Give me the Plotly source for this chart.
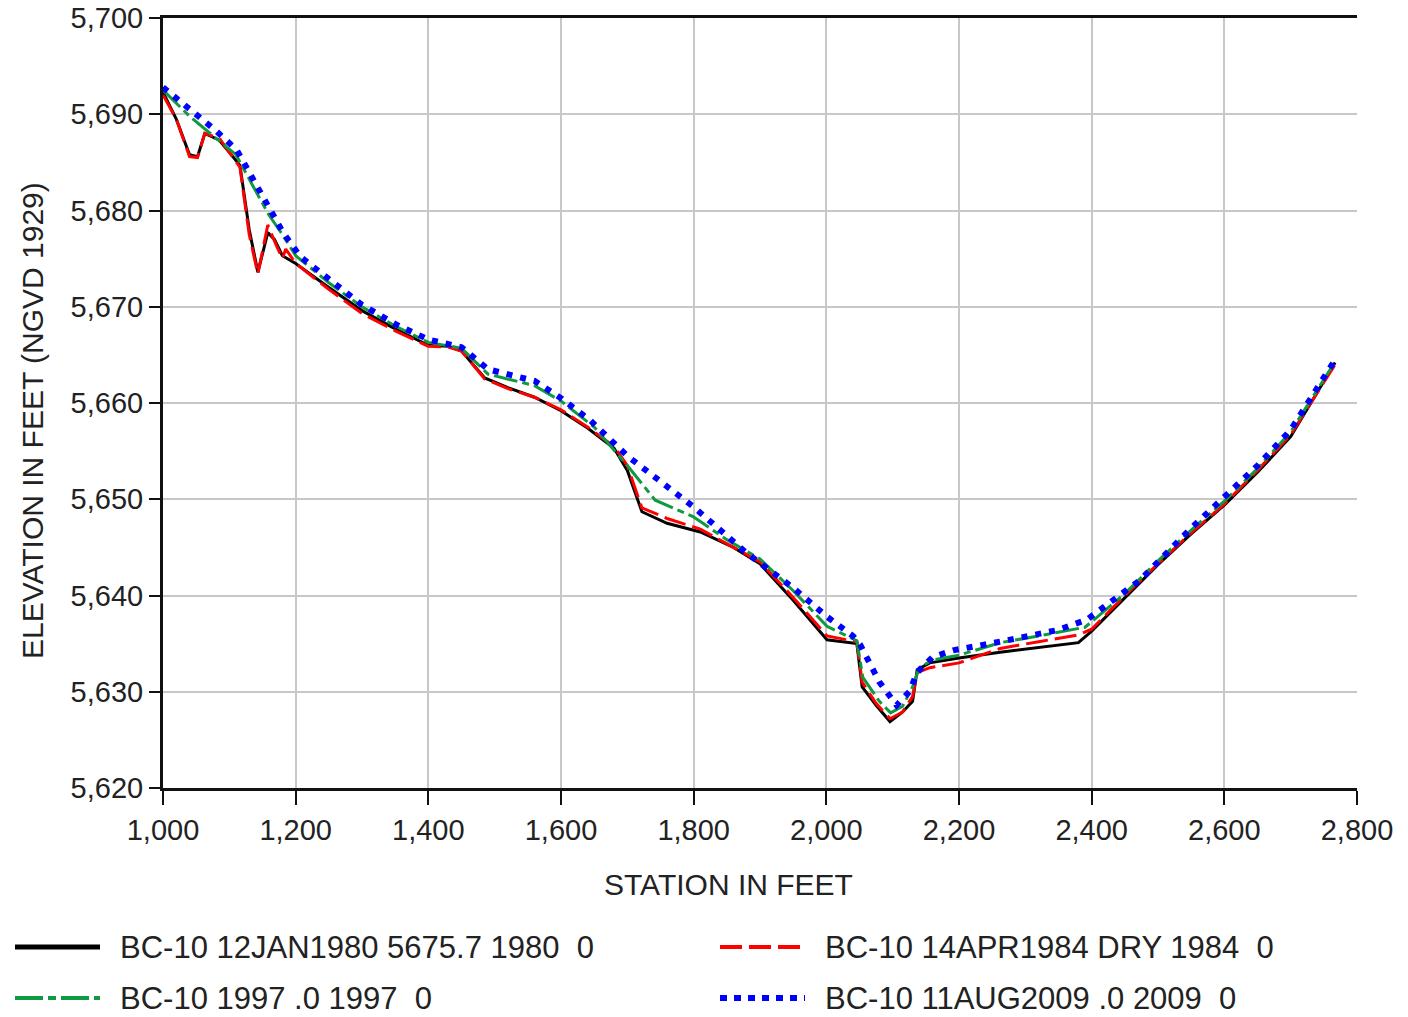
import plotly.graph_objects as go

# ---- data ----
names = [
    "BC-10 12JAN1980 5675.7 1980  0",
    "BC-10 14APR1984 DRY 1984  0",
    "BC-10 1997 .0 1997  0",
    "BC-10 11AUG2009 .0 2009  0",
]

x1980 = [1000, 1020, 1040, 1052, 1063, 1085, 1116, 1130, 1143, 1158, 1168, 1180, 1200, 1250, 1300, 1350,
         1400, 1430, 1450, 1485, 1520, 1560, 1600, 1640, 1680, 1700, 1722, 1760, 1810, 1860, 1900, 1950,
         2001, 2046, 2054, 2075, 2096, 2115, 2130, 2137, 2156, 2200, 2262, 2320, 2380, 2400, 2450, 2500,
         2550, 2600, 2650, 2700, 2767]
y1980 = [5692.3, 5689.5, 5685.8, 5685.6, 5688.0, 5687.3, 5684.7, 5678.0, 5673.6, 5677.7, 5677.0, 5675.3,
         5674.5, 5672.0, 5669.6, 5667.7, 5666.0, 5665.9, 5665.4, 5662.6, 5661.6, 5660.6, 5659.2, 5657.4,
         5655.3, 5653.0, 5648.7, 5647.5, 5646.6, 5645.0, 5643.3, 5639.5, 5635.4, 5635.0, 5630.5, 5628.6,
         5626.9, 5627.9, 5629.0, 5632.3, 5633.0, 5633.5, 5634.1, 5634.6, 5635.1, 5636.3, 5639.8, 5643.2,
         5646.4, 5649.4, 5652.8, 5656.5, 5664.2]

x1984 = [1000, 1020, 1040, 1052, 1063, 1085, 1116, 1130, 1143, 1158, 1170, 1180, 1185, 1200, 1250, 1300,
         1350, 1400, 1430, 1450, 1485, 1520, 1560, 1600, 1640, 1680, 1700, 1722, 1760, 1810, 1860, 1900,
         1950, 2001, 2046, 2054, 2075, 2096, 2115, 2130, 2137, 2156, 2200, 2262, 2320, 2380, 2400, 2450,
         2500, 2550, 2600, 2650, 2700, 2767]
y1984 = [5692.0, 5689.5, 5685.6, 5685.5, 5688.0, 5687.5, 5684.5, 5677.5, 5673.4, 5678.5, 5676.5, 5675.0,
         5676.0, 5674.5, 5671.8, 5669.3, 5667.5, 5665.9, 5665.8, 5665.4, 5662.5, 5661.5, 5660.6, 5659.3,
         5657.5, 5655.5, 5653.5, 5649.1, 5648.0, 5646.9, 5645.0, 5643.5, 5639.8, 5635.8, 5635.2, 5631.0,
         5628.8, 5627.2, 5627.9, 5629.5, 5632.0, 5632.5, 5633.0, 5634.5, 5635.2, 5635.9, 5636.5, 5640.0,
         5643.3, 5646.5, 5649.5, 5653.0, 5656.7, 5664.0]

x1997 = [1000, 1040, 1080, 1110, 1136, 1160, 1180, 1200, 1250, 1300, 1350, 1400, 1450, 1490, 1560, 1600,
         1650, 1700, 1742, 1799, 1850, 1900, 1950, 2001, 2046, 2055, 2080, 2097, 2115, 2130, 2140, 2160,
         2200, 2262, 2320, 2390, 2450, 2500, 2550, 2600, 2650, 2700, 2767]
y1997 = [5692.5, 5689.8, 5687.5, 5685.8, 5682.5, 5679.5, 5677.5, 5675.3, 5672.5, 5670.0, 5668.0, 5666.3,
         5665.7, 5663.0, 5661.8, 5660.2, 5657.5, 5653.5, 5649.9, 5648.2, 5645.8, 5643.8, 5640.5, 5636.8,
         5635.3, 5631.5, 5629.0, 5627.8, 5628.5, 5630.5, 5632.5, 5633.3, 5633.8, 5635.1, 5635.8, 5636.7,
         5640.2, 5643.6, 5646.8, 5649.8, 5653.2, 5657.0, 5664.3]

x2009 = [1000, 1044, 1078, 1111, 1136, 1158, 1181, 1207, 1250, 1300, 1350, 1400, 1450, 1490, 1560, 1600,
         1644, 1700, 1800, 1880, 1950, 2001, 2040, 2051, 2080, 2100, 2106, 2125, 2137, 2160, 2191, 2262,
         2348, 2393, 2473, 2550, 2600, 2650, 2700, 2767]
y2009 = [5692.8, 5690.4, 5688.4, 5686.3, 5683.2, 5680.4, 5677.7, 5675.2, 5672.8, 5670.2, 5668.2, 5666.6,
         5665.8, 5663.5, 5662.3, 5660.5, 5658.2, 5654.5, 5649.2, 5644.4, 5640.8, 5637.8, 5635.8, 5634.9,
         5631.0, 5629.3, 5628.6, 5630.0, 5632.0, 5633.6, 5634.3, 5635.2, 5636.4, 5637.5, 5641.6, 5647.0,
         5650.2, 5653.5, 5657.2, 5664.5]

xs = [x1980, x1984, x1997, x2009]
ys = [y1980, y1984, y1997, y2009]

# ---- styles ----
colors = ["#000000", "#ff0000", "#109a40", "#0000ff"]
widths = [3, 3, 3, 6]
dashes = ["solid", "22px,7px", "24px,5px,7px,5px", "6px,8px"]
leg_widths = [5, 4, 4, 6]
leg_dashes = ["solid", "22px,7px", "28px,5px,8px,5px", "7px,7px"]

FONT = "Liberation Sans, Arial, sans-serif"
W, H = 1408, 1017
L, R, T, B = 163, 1357, 18, 788

fig = go.Figure()
for x, y, c, w, d, n in zip(xs, ys, colors, widths, dashes, names):
    fig.add_trace(go.Scatter(x=x, y=y, mode="lines", name=n,
                             line=dict(color=c, width=w, dash=d), showlegend=False))

def px(xp):
    return (xp - L) / (R - L)

def py(yp):
    return (B - yp) / (B - T)

# custom legend (long line samples like the reference)
leg_pos = [(15, 947), (720, 947), (15, 998), (720, 998)]
for (lx, ly), c, w, d, n in zip(leg_pos, colors, leg_widths, leg_dashes, names):
    fig.add_shape(type="line", xref="paper", yref="paper",
                  x0=px(lx), x1=px(lx + 85), y0=py(ly), y1=py(ly),
                  line=dict(color=c, width=w, dash=d))
    fig.add_annotation(xref="paper", yref="paper", x=px(lx + 103), y=py(ly),
                       text=n, showarrow=False, xanchor="left", yanchor="middle",
                       font=dict(family=FONT, size=31, color="#222222"))

fig.add_annotation(xref="paper", yref="paper", x=px(728), y=py(884),
                   text="STATION IN FEET", showarrow=False,
                   xanchor="center", yanchor="middle",
                   font=dict(family=FONT, size=30, color="#222222"))
fig.add_annotation(xref="paper", yref="paper", x=px(32), y=py(421),
                   text="ELEVATION IN FEET (NGVD 1929)", showarrow=False, textangle=-90,
                   xanchor="center", yanchor="middle",
                   font=dict(family=FONT, size=30, color="#222222"))

fig.update_layout(
    width=W, height=H,
    margin=dict(l=L, r=W - R, t=T, b=H - B, autoexpand=False),
    paper_bgcolor="white", plot_bgcolor="white",
    font=dict(family=FONT, size=29, color="#222222"),
)
fig.update_xaxes(range=[1000, 2800], dtick=200, tick0=1000, tickformat=",",
                 showgrid=True, gridcolor="#c8c8c8", gridwidth=2,
                 showline=True, linecolor="#111111", linewidth=3, mirror=True,
                 ticks="outside", ticklen=14, tickwidth=2, tickcolor="#111111",
                 zeroline=False, tickfont=dict(size=29), automargin=False)
fig.update_yaxes(range=[5620, 5700], dtick=10, tick0=5620, tickformat=",",
                 showgrid=True, gridcolor="#c8c8c8", gridwidth=2,
                 showline=True, linecolor="#111111", linewidth=3,
                 ticks="outside", ticklen=11, tickwidth=2, tickcolor="#111111",
                 zeroline=False, tickfont=dict(size=29), automargin=False)

fig.write_html("out.html")
